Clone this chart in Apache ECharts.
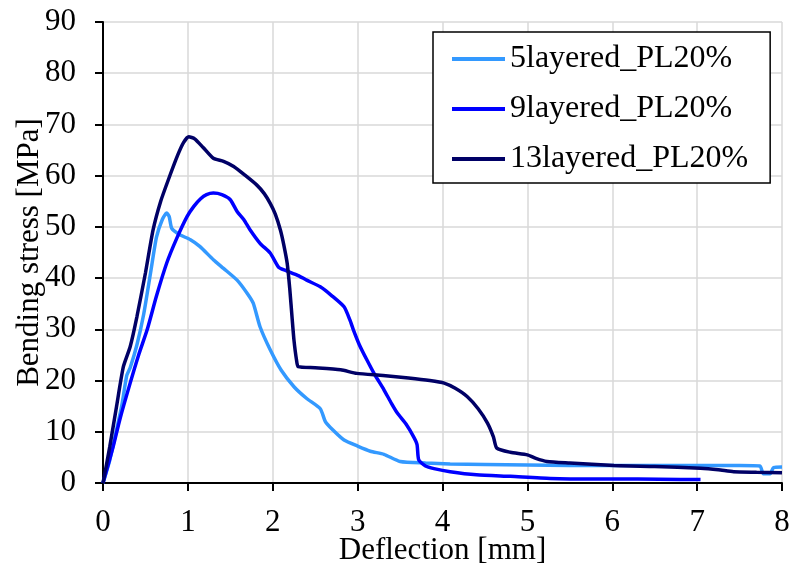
<!DOCTYPE html>
<html lang="en">
  <head>
    <meta charset="UTF-8" />
    <title>Bending stress vs deflection</title>
    <script src="https://cdn.jsdelivr.net/npm/echarts@6/dist/echarts.min.js"></script>
  </head>
  <body style="margin: 0">
    <div id="main" style="width: 790px; height: 571px"></div>
    <script type="text/javascript">
      // values
      let names = ["5layered_PL20%", "9layered_PL20%", "13layered_PL20%"];
      let colors = ["#3399ff", "#0000ff", "#000066"];

      let defl5 = [0, 0.08, 0.16, 0.22, 0.28, 0.32, 0.4, 0.48, 0.56, 0.63, 0.7, 0.75, 0.78, 0.81, 0.9, 1.03, 1.14, 1.3, 1.42, 1.58, 1.7, 1.77, 1.85, 1.97, 2.1, 2.25, 2.4, 2.56, 2.62, 2.7, 2.84, 3.0, 3.15, 3.31, 3.5, 3.8, 4.09, 4.5, 5.0, 5.5, 6.0, 6.5, 7.0, 7.5, 7.74, 7.78, 7.86, 7.9, 8.0];
      let stress5 = [0, 4.5, 10.4, 15, 21, 22.5, 27, 33, 41, 48, 51.5, 52.7, 52, 49.7, 48.5, 47.5, 46.2, 43.6, 41.9, 39.6, 37, 35.1, 30.5, 26, 22, 18.8, 16.5, 14.5, 12, 10.5, 8.4, 7.2, 6.2, 5.6, 4.2, 3.9, 3.7, 3.6, 3.5, 3.4, 3.4, 3.4, 3.4, 3.4, 3.3, 1.8, 1.8, 3.0, 3.1];

      let defl9 = [0, 0.06, 0.12, 0.2, 0.32, 0.42, 0.52, 0.63, 0.75, 0.87, 0.99, 1.07, 1.15, 1.22, 1.3, 1.4, 1.5, 1.58, 1.66, 1.73, 1.85, 1.97, 2.07, 2.15, 2.3, 2.4, 2.56, 2.7, 2.84, 2.91, 2.95, 3.02, 3.11, 3.2, 3.31, 3.4, 3.47, 3.57, 3.66, 3.7, 3.72, 3.8, 3.9, 4.09, 4.4, 4.8, 5.27, 5.8, 6.3, 6.8, 7.04];
      let stress9 = [0, 3.5, 7.1, 12.5, 19.5, 25, 29.9, 36.5, 42.9, 47.8, 52, 54, 55.5, 56.3, 56.6, 56.3, 55.3, 53, 51.4, 49.5, 46.8, 44.9, 42.1, 41.5, 40.5, 39.6, 38.3, 36.5, 34.4, 31.8, 29.9, 27, 24, 21.2, 18.2, 15.5, 13.6, 11.5, 9.0, 7.5, 4.5, 3.3, 2.8, 2.2, 1.6, 1.3, 0.9, 0.8, 0.8, 0.7, 0.7];

      let defl13 = [0, 0.08, 0.16, 0.24, 0.32, 0.4, 0.5, 0.59, 0.68, 0.77, 0.88, 0.95, 1.01, 1.08, 1.18, 1.3, 1.42, 1.54, 1.68, 1.81, 1.9, 1.97, 2.03, 2.09, 2.13, 2.17, 2.2, 2.23, 2.25, 2.28, 2.3, 2.5, 2.8, 2.99, 3.3, 3.6, 3.85, 4.02, 4.15, 4.29, 4.42, 4.53, 4.6, 4.64, 4.8, 5.0, 5.1, 5.23, 5.5, 6.02, 6.5, 7.04, 7.25, 7.43, 7.7, 8.0];
      let stress13 = [0, 7.1, 15, 22.7, 26.6, 32.5, 41, 49.4, 55, 59.2, 64, 66.5, 67.6, 67.2, 65.5, 63.4, 62.8, 61.8, 60, 58.2, 56.5, 54.6, 52.5, 49.4, 46.5, 42.9, 38, 31.8, 27.9, 24, 22.7, 22.5, 22.1, 21.4, 21, 20.5, 20, 19.5, 18.5, 16.9, 14.5, 11.7, 9, 6.8, 6, 5.5, 4.8, 4.2, 3.9, 3.4, 3.2, 2.9, 2.6, 2.2, 2.1, 2.0];

      let xTicks = { min: 0, max: 8, step: 1 };
      let yTicks = { min: 0, max: 90, step: 10 };

      let font = "Liberation Serif";

      function pairs(xs, ys) {
        return xs.map((x, i) => [x, ys[i]]);
      }

      let curves = [
        pairs(defl5, stress5),
        pairs(defl9, stress9),
        pairs(defl13, stress13),
      ];

      let options = {
        animation: false,
        grid: { left: 103, right: 8, top: 22, bottom: 88, outerBoundsMode: "none" },
        legend: {
          orient: "vertical",
          left: 433,
          top: 32,
          icon: "rect",
          itemWidth: 53,
          itemHeight: 4,
          itemGap: 16,
          padding: [10, 22, 7, 19],
          borderColor: "#000",
          borderWidth: 1.5,
          backgroundColor: "#fff",
          textStyle: { fontFamily: font, fontSize: 32, color: "#000", lineHeight: 34 },
          data: names,
        },
        xAxis: {
          type: "value",
          min: xTicks.min,
          max: xTicks.max,
          interval: xTicks.step,
          name: "Deflection [mm]",
          nameLocation: "middle",
          nameGap: 52,
          nameMoveOverlap: false,
          nameTextStyle: { fontFamily: font, fontSize: 31, color: "#000" },
          axisLine: { show: true, lineStyle: { color: "#000", width: 2 } },
          axisTick: { show: true, length: 8, lineStyle: { color: "#000", width: 2 } },
          axisLabel: { margin: 24, fontFamily: font, fontSize: 31, color: "#000" },
          splitLine: { show: true, lineStyle: { color: "#d9d9d9", width: 1.5 } },
        },
        yAxis: {
          type: "value",
          min: yTicks.min,
          max: yTicks.max,
          interval: yTicks.step,
          name: "Bending stress [MPa]",
          nameLocation: "middle",
          nameGap: 58,
          nameMoveOverlap: false,
          nameTextStyle: { fontFamily: font, fontSize: 31, color: "#000" },
          axisLine: { show: true, lineStyle: { color: "#000", width: 2 } },
          axisTick: { show: true, length: 8, lineStyle: { color: "#000", width: 2 } },
          axisLabel: { margin: 27, fontFamily: font, fontSize: 31, color: "#000" },
          splitLine: { show: true, lineStyle: { color: "#d9d9d9", width: 1.5 } },
        },
        series: names.map((n, i) => ({
          name: n,
          type: "line",
          data: curves[i],
          showSymbol: false,
          smooth: 0.2,
          color: colors[i],
          lineStyle: { color: colors[i], width: 3.5 },
        })),
      };

      let myChart = echarts.init(document.getElementById("main"));
      myChart.setOption(options);
    </script>
  </body>
</html>
